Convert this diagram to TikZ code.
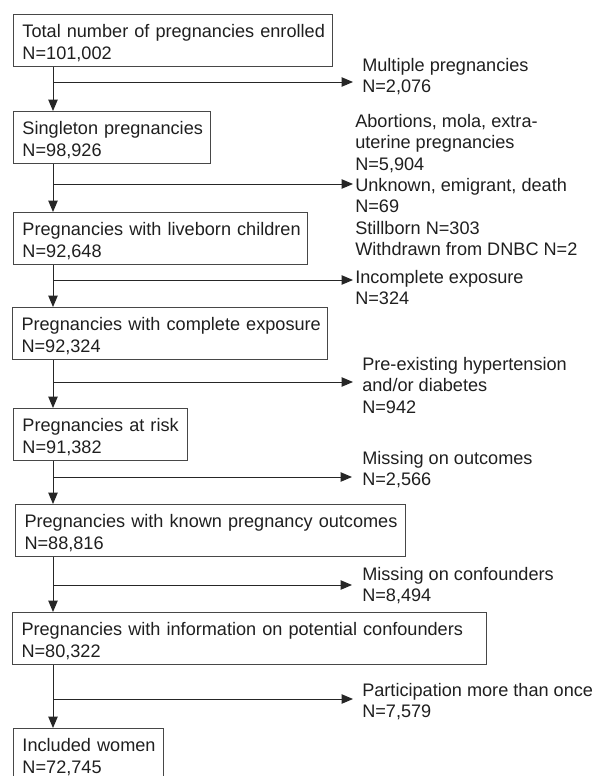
\documentclass[tikz,border=0pt]{standalone}
\usepackage{fontspec}
\setmainfont{Liberation Sans}
\usetikzlibrary{arrows.meta}
\newcommand{\fl}{\rule{0pt}{13.5pt}}
\newcommand{\ml}[1]{\mbox{#1}}
\begin{document}
\begin{tikzpicture}[x=0.75pt,y=-0.75pt,
  txt/.style={font=\fontsize{13.6}{16}\selectfont, text=black!88},
  box/.style={txt, draw=black!72, line width=0.75pt, rectangle, anchor=north west,
    align=left, inner xsep=6.75pt, inner ysep=0pt, minimum height=39pt},
  side/.style={txt, anchor=north west, align=left, inner sep=0pt},
  arr/.style={draw=black!85, line width=0.75pt, -{Triangle[length=8.5pt,width=7pt]}}
]
\useasboundingbox (0,0) rectangle (594,776);
\clip (0,0) rectangle (594,776);

% main boxes
\node[box, text width=225.75pt] (b1) at (13,14)  {\fl\ml{Total number of pregnancies enrolled}\\N=101,002};
\node[box, text width=134.25pt] (b2) at (13,111) {\fl\ml{Singleton pregnancies}\\N=98,926};
\node[box, text width=207pt]    (b3) at (13,212) {\fl\ml{Pregnancies with liveborn children}\\N=92,648};
\node[box, text width=222.75pt] (b4) at (12,307) {\fl\ml{Pregnancies with complete exposure}\\N=92,324};
\node[box, text width=117pt]    (b5) at (13,408) {\fl\ml{Pregnancies at risk}\\N=91,382};
\node[box, text width=279pt]    (b6) at (15,504) {\fl\ml{Pregnancies with known pregnancy outcomes}\\N=88,816};
\node[box, text width=342pt]    (b7) at (12,612) {\fl\ml{Pregnancies with information on potential confounders}\\N=80,322};
\node[box, text width=99pt]     (b8) at (13,728) {\fl\ml{Included women}\\N=72,745};

% side labels
\node[side] (s1) at (362,58)  {Multiple pregnancies\\N=2,076};
\node[side] (s2) at (355,114) {Abortions, mola, extra-\\uterine pregnancies\\N=5,904\\Unknown, emigrant, death\\N=69\\Stillborn N=303\\Withdrawn from DNBC N=2};
\node[side] (s3) at (355,270) {Incomplete exposure\\N=324};
\node[side] (s4) at (362,357) {Pre-existing hypertension\\and/or diabetes\\N=942};
\node[side] (s5) at (362,451) {Missing on outcomes\\N=2,566};
\node[side] (s6) at (362,567) {Missing on confounders\\N=8,494};
\node[side] (s7) at (362,683) {Participation more than once\\N=7,579};

% stem and branch coordinates
\coordinate (sx) at (53,0);
\coordinate (j1) at (53,82);  \coordinate (e1) at (353,82);
\coordinate (j2) at (53,184); \coordinate (e2) at (353,184);
\coordinate (j3) at (53,280); \coordinate (e3) at (353,280);
\coordinate (j4) at (53,382); \coordinate (e4) at (353,382);
\coordinate (j5) at (53,477); \coordinate (e5) at (352,477);
\coordinate (j6) at (53,585); \coordinate (e6) at (352,585);
\coordinate (j7) at (53,699); \coordinate (e7) at (353,699);

% vertical arrows
\draw[arr] (b1.south -| sx) -- (b2.north -| sx);
\draw[arr] (b2.south -| sx) -- (b3.north -| sx);
\draw[arr] (b3.south -| sx) -- (b4.north -| sx);
\draw[arr] (b4.south -| sx) -- (b5.north -| sx);
\draw[arr] (b5.south -| sx) -- (b6.north -| sx);
\draw[arr] (b6.south -| sx) -- (b7.north -| sx);
\draw[arr] (b7.south -| sx) -- (b8.north -| sx);

% exclusion arrows
\draw[arr] (j1) -- (e1);
\draw[arr] (j2) -- (e2);
\draw[arr] (j3) -- (e3);
\draw[arr] (j4) -- (e4);
\draw[arr] (j5) -- (e5);
\draw[arr] (j6) -- (e6);
\draw[arr] (j7) -- (e7);
\end{tikzpicture}
\end{document}
